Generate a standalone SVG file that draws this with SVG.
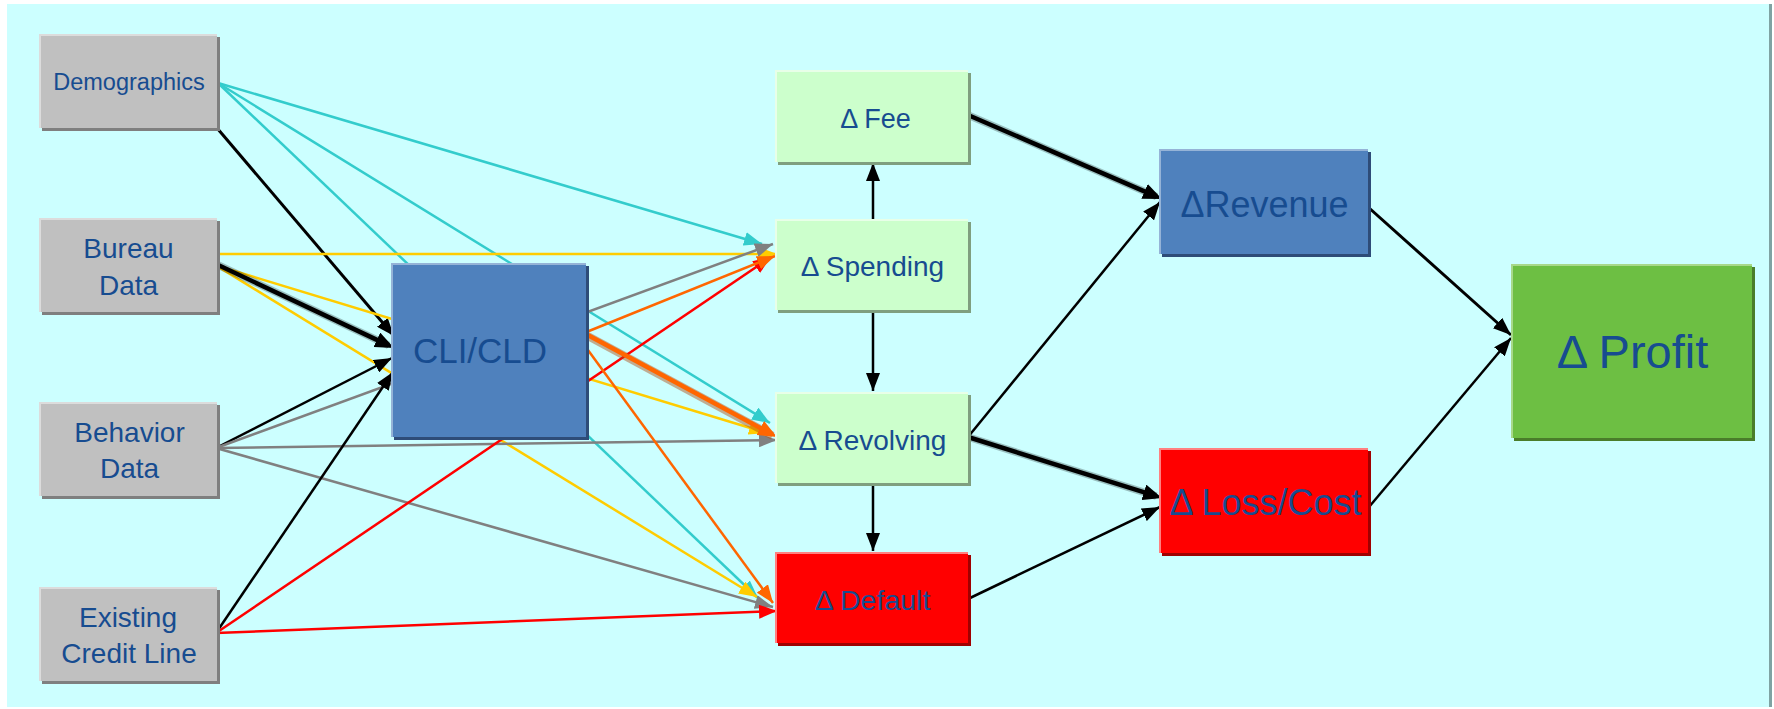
<svg xmlns="http://www.w3.org/2000/svg" width="1774" height="709" viewBox="0 0 1774 709">
  <defs>
    <style>
      .lbl { font-family: "Liberation Sans", Arial, sans-serif; fill: #174C90; text-anchor: middle; }
      .c { fill: none; stroke-linecap: butt; }
      .thin { stroke-width: 2.5; }
      .thick { stroke-width: 4.5; }
      .cyan { stroke: #33CCCC; }
      .yel { stroke: #FFCC00; }
      .gry { stroke: #808080; }
      .org { stroke: #FF6600; }
      .red { stroke: #FF0000; }
      .blk { stroke: #000000; }
      .hl { fill: none; stroke-width: 2; }
    </style>
    <marker id="aCyan" markerUnits="userSpaceOnUse" markerWidth="18" markerHeight="14" refX="18" refY="7" orient="auto"><path d="M0,0 L18,7 L0,14 z" fill="#33CCCC"/></marker>
    <marker id="aYel" markerUnits="userSpaceOnUse" markerWidth="18" markerHeight="14" refX="18" refY="7" orient="auto"><path d="M0,0 L18,7 L0,14 z" fill="#FFCC00"/></marker>
    <marker id="aGry" markerUnits="userSpaceOnUse" markerWidth="18" markerHeight="14" refX="18" refY="7" orient="auto"><path d="M0,0 L18,7 L0,14 z" fill="#808080"/></marker>
    <marker id="aOrg" markerUnits="userSpaceOnUse" markerWidth="18" markerHeight="14" refX="18" refY="7" orient="auto"><path d="M0,0 L18,7 L0,14 z" fill="#FF6600"/></marker>
    <marker id="aRed" markerUnits="userSpaceOnUse" markerWidth="18" markerHeight="14" refX="18" refY="7" orient="auto"><path d="M0,0 L18,7 L0,14 z" fill="#FF0000"/></marker>
    <marker id="aBlk" markerUnits="userSpaceOnUse" markerWidth="18" markerHeight="14" refX="18" refY="7" orient="auto"><path d="M0,0 L18,7 L0,14 z" fill="#000000"/></marker>
    <marker id="aBlkT" markerUnits="userSpaceOnUse" markerWidth="19" markerHeight="16" refX="13" refY="8" orient="auto"><path d="M0,0 L19,8 L0,16 z" fill="#000000"/></marker>
    <marker id="aOrgT" markerUnits="userSpaceOnUse" markerWidth="19" markerHeight="16" refX="13" refY="8" orient="auto"><path d="M0,0 L19,8 L0,16 z" fill="#FF6600"/></marker>
  </defs>

  <!-- page and panel background -->
  <rect x="0" y="0" width="1774" height="709" fill="#FFFFFF"/>
  <rect x="7" y="4" width="1762" height="703" fill="#CCFFFF"/>
  <rect x="1769" y="4" width="3" height="703" fill="#7FA3A3"/>

  <!-- connectors -->
  <g id="connectors">
    <!-- Demographics -->
    <line class="c thin cyan" x1="218" y1="83" x2="762" y2="244" marker-end="url(#aCyan)"/>
    <line class="c thin cyan" x1="218" y1="83" x2="770" y2="423" marker-end="url(#aCyan)"/>
    <line class="c thin cyan" x1="218" y1="83" x2="758" y2="598" marker-end="url(#aCyan)"/>
    <line class="c blk" stroke-width="3" x1="217" y1="128" x2="394" y2="336" marker-end="url(#aBlk)"/>
    <!-- Bureau Data -->
    <line class="c thin yel" x1="217" y1="254" x2="777" y2="254" marker-end="url(#aYel)"/>
    <line class="c thin yel" x1="218" y1="266" x2="767" y2="433" marker-end="url(#aYel)"/>
    <line class="c thin yel" x1="220" y1="268" x2="757" y2="597" marker-end="url(#aYel)"/>
    <line class="c" stroke="#000" stroke-opacity="0.25" stroke-width="7.5" x1="216" y1="264" x2="388.6" y2="345.4"/>
    <line class="c thick blk" x1="216" y1="264" x2="388.6" y2="345.4" marker-end="url(#aBlkT)"/>
    <!-- Behavior Data -->
    <line class="c thin blk" x1="216" y1="448" x2="392" y2="358" marker-end="url(#aBlk)"/>
    <line class="c thin gry" x1="216" y1="448" x2="773" y2="244" marker-end="url(#aGry)"/>
    <line class="c thin gry" x1="216" y1="448" x2="777" y2="440" marker-end="url(#aGry)"/>
    <line class="c thin gry" x1="216" y1="448" x2="773" y2="607" marker-end="url(#aGry)"/>
    <!-- Existing Credit Line -->
    <line class="c thin blk" x1="216" y1="633" x2="393" y2="372" marker-end="url(#aBlk)"/>
    <line class="c thin red" x1="216" y1="633" x2="771" y2="257" marker-end="url(#aRed)"/>
    <line class="c thin red" x1="216" y1="633" x2="777" y2="611" marker-end="url(#aRed)"/>
    <!-- CLI/CLD -->
    <line class="c thin org" x1="584" y1="333" x2="775" y2="256" marker-end="url(#aOrg)"/>
    <line class="c" stroke="#B04A10" stroke-opacity="0.45" stroke-width="8" x1="585" y1="334.5" x2="772.5" y2="435.7"/>
    <line class="c thick org" x1="584" y1="333" x2="771.7" y2="434.2" marker-end="url(#aOrgT)"/>
    <line class="c thin org" x1="585" y1="346" x2="773" y2="603" marker-end="url(#aOrg)"/>
    <!-- middle column -->
    <line class="c thin blk" x1="873" y1="219" x2="873" y2="163" marker-end="url(#aBlk)"/>
    <line class="c thin blk" x1="873" y1="312" x2="873" y2="391" marker-end="url(#aBlk)"/>
    <line class="c thin blk" x1="873" y1="485" x2="873" y2="551" marker-end="url(#aBlk)"/>
    <!-- to revenue and loss -->
    <line class="c" stroke="#000" stroke-opacity="0.25" stroke-width="7.5" x1="968" y1="115" x2="1156.5" y2="196.6"/>
    <line class="c thick blk" x1="968" y1="115" x2="1156.5" y2="196.6" marker-end="url(#aBlkT)"/>
    <line class="c thin blk" x1="968" y1="437" x2="1160" y2="202" marker-end="url(#aBlk)"/>
    <line class="c" stroke="#000" stroke-opacity="0.25" stroke-width="7.5" x1="968" y1="437" x2="1156.3" y2="496.2"/>
    <line class="c thick blk" x1="968" y1="437" x2="1156.3" y2="496.2" marker-end="url(#aBlkT)"/>
    <line class="c thin blk" x1="970" y1="598" x2="1160" y2="507" marker-end="url(#aBlk)"/>
    <!-- to profit -->
    <line class="c blk" stroke-width="3" x1="1368" y1="207" x2="1511" y2="335" marker-end="url(#aBlk)"/>
    <line class="c thin blk" x1="1369" y1="507" x2="1511" y2="338" marker-end="url(#aBlk)"/>
  </g>

  <!-- input nodes -->
  <g id="demographics">
    <rect x="42" y="37" width="178" height="94" fill="#7F7F7F"/>
    <rect x="39" y="34" width="178" height="94" fill="#C0C0C0"/>
    <path class="hl" d="M40,128 V35 H217" stroke="#DCDCDC"/>
    <text class="lbl" x="129" y="90" font-size="23.5">Demographics</text>
  </g>
  <g id="bureau-data">
    <rect x="42" y="221" width="178" height="94" fill="#7F7F7F"/>
    <rect x="39" y="218" width="178" height="94" fill="#C0C0C0"/>
    <path class="hl" d="M40,312 V219 H217" stroke="#DCDCDC"/>
    <text class="lbl" x="128.5" y="258" font-size="28">Bureau</text>
    <text class="lbl" x="128.5" y="295" font-size="28">Data</text>
  </g>
  <g id="behavior-data">
    <rect x="42" y="405" width="178" height="94" fill="#7F7F7F"/>
    <rect x="39" y="402" width="178" height="94" fill="#C0C0C0"/>
    <path class="hl" d="M40,496 V403 H217" stroke="#DCDCDC"/>
    <text class="lbl" x="129.5" y="442" font-size="28">Behavior</text>
    <text class="lbl" x="129.5" y="478" font-size="28">Data</text>
  </g>
  <g id="existing-credit-line">
    <rect x="42" y="590" width="178" height="94" fill="#7F7F7F"/>
    <rect x="39" y="587" width="178" height="94" fill="#C0C0C0"/>
    <path class="hl" d="M40,681 V588 H217" stroke="#DCDCDC"/>
    <text class="lbl" x="128" y="627" font-size="28">Existing</text>
    <text class="lbl" x="129" y="663" font-size="28">Credit Line</text>
  </g>

  <!-- decision node -->
  <g id="cli-cld">
    <rect x="394" y="266" width="195" height="174" fill="#2E4C78"/>
    <rect x="391" y="263" width="195" height="174" fill="#4F81BD"/>
    <path class="hl" d="M392,437 V264 H586" stroke="#95B3D7"/>
    <text class="lbl" x="480" y="363" font-size="35">CLI/CLD</text>
  </g>

  <!-- behaviour changes -->
  <g id="fee">
    <rect x="778" y="73" width="193" height="92" fill="#7F9F7F"/>
    <rect x="775" y="70" width="193" height="92" fill="#CCFFCC"/>
    <path class="hl" d="M776,162 V71 H968" stroke="#E8FFE8"/>
    <text class="lbl" x="875.5" y="128" font-size="27">Δ Fee</text>
  </g>
  <g id="spending">
    <rect x="778" y="222" width="193" height="91" fill="#7F9F7F"/>
    <rect x="775" y="219" width="193" height="91" fill="#CCFFCC"/>
    <path class="hl" d="M776,310 V220 H968" stroke="#E8FFE8"/>
    <text class="lbl" x="872.5" y="276" font-size="28">Δ Spending</text>
  </g>
  <g id="revolving">
    <rect x="778" y="395" width="193" height="91" fill="#7F9F7F"/>
    <rect x="775" y="392" width="193" height="91" fill="#CCFFCC"/>
    <path class="hl" d="M776,483 V393 H968" stroke="#E8FFE8"/>
    <text class="lbl" x="872.5" y="450" font-size="28">Δ Revolving</text>
  </g>
  <g id="default">
    <rect x="778" y="555" width="193" height="91" fill="#A00000"/>
    <rect x="775" y="552" width="193" height="91" fill="#FF0000"/>
    <path class="hl" d="M776,643 V553 H968" stroke="#FF8080"/>
    <text class="lbl" x="872.5" y="610" font-size="28.5">Δ Default</text>
  </g>

  <!-- outcomes -->
  <g id="revenue">
    <rect x="1162" y="152" width="209" height="105" fill="#2E4C78"/>
    <rect x="1159" y="149" width="209" height="105" fill="#4F81BD"/>
    <path class="hl" d="M1160,254 V150 H1368" stroke="#95B3D7"/>
    <text class="lbl" x="1264.5" y="217" font-size="36">ΔRevenue</text>
  </g>
  <g id="loss-cost">
    <rect x="1162" y="451" width="209" height="105" fill="#A00000"/>
    <rect x="1159" y="448" width="209" height="105" fill="#FF0000"/>
    <path class="hl" d="M1160,553 V449 H1368" stroke="#FF8080"/>
    <text class="lbl" x="1265.5" y="515" font-size="36">Δ Loss/Cost</text>
  </g>
  <g id="profit">
    <rect x="1514" y="267" width="241" height="174" fill="#4A7D2A"/>
    <rect x="1511" y="264" width="241" height="174" fill="#6DBF43"/>
    <path class="hl" d="M1512,438 V265 H1752" stroke="#A8D88A"/>
    <text class="lbl" x="1632.5" y="368" font-size="47">Δ Profit</text>
  </g>
</svg>
